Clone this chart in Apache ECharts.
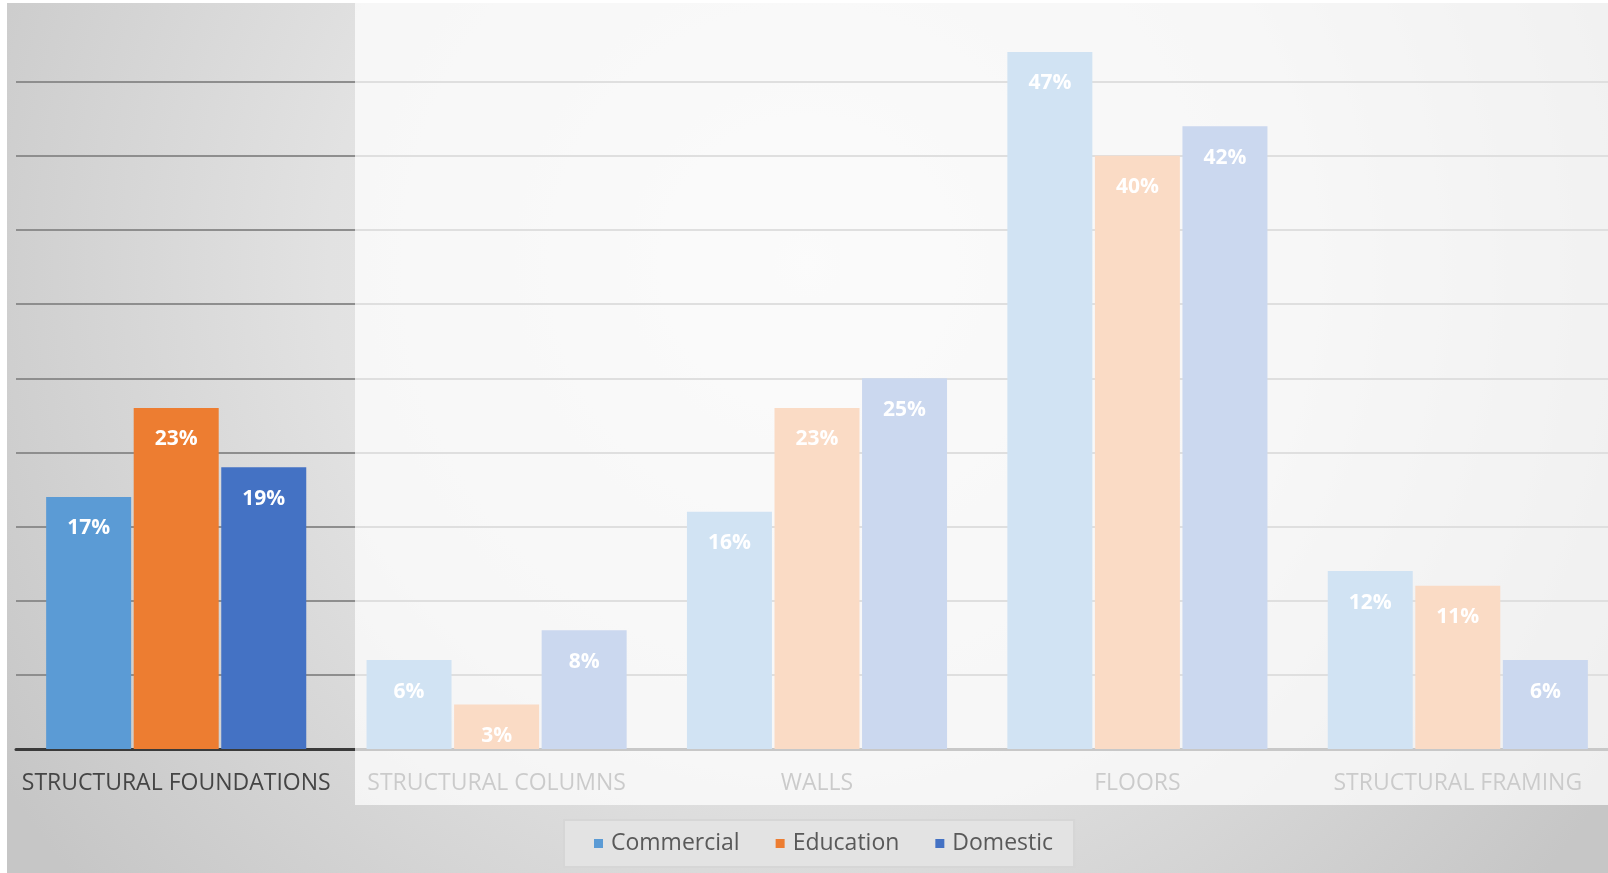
<!DOCTYPE html>
<html>
<head>
<meta charset="utf-8">
<title>Material usage by building type</title>
<script src="https://cdn.jsdelivr.net/npm/echarts@6/dist/echarts.min.js"></script>
<style>
  html, body { margin: 0; padding: 0; background: #ffffff; }
  #chart { width: 1608px; height: 873px; }
</style>
</head>
<body>
<div id="chart"></div>
<script>
// Share of each building element, by sector (percent)
const categories = ['STRUCTURAL FOUNDATIONS', 'STRUCTURAL COLUMNS', 'WALLS', 'FLOORS', 'STRUCTURAL FRAMING'];
const seriesNames = ['Commercial', 'Education', 'Domestic'];
const commercial = [17, 6, 16, 47, 12];
const education = [23, 3, 23, 40, 11];
const domestic = [19, 8, 25, 42, 6];

const palette = ['#5b9bd5', '#ed7d31', '#4472c4'];
const font = '"Open Sans", "Noto Sans", sans-serif';

const chart = echarts.init(document.getElementById('chart'), null, { renderer: 'canvas' });

function barSeries(name, values, color) {
  return {
    name: name,
    type: 'bar',
    data: values,
    barWidth: 85,
    barGap: '3%',
    itemStyle: { color: color },
    label: {
      show: true,
      position: 'insideTop',
      distance: 21,
      formatter: '{c}%',
      color: '#ffffff',
      fontFamily: font,
      fontWeight: 'bold',
      fontSize: 21
    }
  };
}

chart.setOption({
  backgroundColor: '#ffffff',
  animation: false,
  graphic: [
    {
      // grey studio backdrop behind the whole chart
      type: 'rect',
      z: -10,
      silent: true,
      shape: { x: 7, y: 3, width: 1601, height: 870 },
      style: {
        fill: new echarts.graphic.RadialGradient(0.5, 0.3, 1.1, [
          { offset: 0, color: '#efefef' },
          { offset: 0.5, color: '#e2e2e2' },
          { offset: 1, color: '#c6c6c6' }
        ])
      }
    },
    {
      // white veil that mutes every category except the first one
      type: 'rect',
      z: 100,
      silent: true,
      shape: { x: 355, y: 3, width: 1253, height: 802 },
      style: { fill: 'rgba(255,255,255,0.72)' }
    }
  ],
  grid: {
    left: 16,
    top: 7.5,
    right: -10,
    bottom: 124,
    containLabel: false,
    outerBoundsMode: 'none'
  },
  legend: {
    data: seriesNames,
    left: 564,
    top: 820,
    icon: 'rect',
    itemWidth: 9,
    itemHeight: 9,
    itemGap: 36,
    padding: [12, 21, 12, 30],
    backgroundColor: '#e3e3e3',
    borderColor: '#d6d6d6',
    borderWidth: 2,
    textStyle: {
      color: '#595959',
      fontFamily: font,
      fontSize: 23,
      padding: [0, 0, 0, 3]
    }
  },
  xAxis: {
    type: 'category',
    data: categories,
    axisLine: { show: true, lineStyle: { color: '#3a3a3a', width: 3 } },
    axisTick: { show: false },
    axisLabel: {
      interval: 0,
      color: '#454545',
      fontFamily: font,
      fontSize: 23,
      margin: 23
    }
  },
  yAxis: {
    type: 'value',
    min: 0,
    max: 50,
    interval: 5,
    axisLabel: { show: false },
    axisLine: { show: false },
    axisTick: { show: false },
    splitLine: {
      show: true,
      showMaxLine: false,
      lineStyle: { color: '#8e8e8e', width: 2 }
    }
  },
  series: [
    barSeries(seriesNames[0], commercial, palette[0]),
    barSeries(seriesNames[1], education, palette[1]),
    barSeries(seriesNames[2], domestic, palette[2])
  ]
});
</script>
</body>
</html>
